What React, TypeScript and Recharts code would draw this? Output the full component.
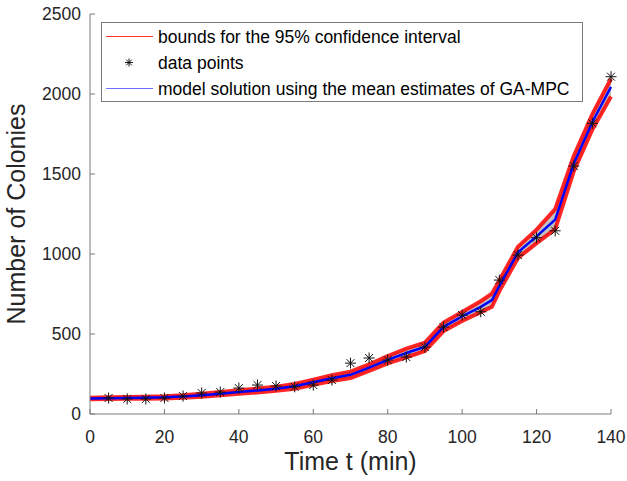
import React from "react";
import { ComposedChart, Area, Line, Scatter, XAxis, YAxis, Legend, Label } from "recharts";

// model curve (mean estimate) and 95% bounds
const modelTime = [0, 5, 10, 15, 20, 25, 30, 35, 40, 45, 50, 55, 60, 65, 70, 75, 80, 85, 90, 95, 100, 105, 108, 110, 115, 120, 125, 130, 135, 140];
const meanEstimate = [97, 99, 100, 102, 104, 109, 117, 127, 137, 147, 158, 173, 199, 224, 245, 290, 338, 381, 420, 545, 610, 670, 712, 800, 1010, 1110, 1215, 1565, 1825, 2045];
const upperBound = [102, 104, 106, 108, 111, 117, 126, 137, 148, 159, 171, 188, 215, 242, 265, 310, 362, 408, 446, 572, 638, 705, 752, 835, 1045, 1152, 1280, 1612, 1875, 2095];
const lowerBound = [92, 94, 95, 96, 97, 101, 108, 117, 126, 135, 145, 158, 183, 206, 225, 270, 316, 354, 394, 518, 582, 637, 670, 768, 975, 1068, 1155, 1518, 1778, 1985];

// observed colonies
const dataTime = [5, 10, 15, 20, 25, 30, 35, 40, 45, 50, 55, 60, 65, 70, 75, 80, 85, 90, 95, 100, 105, 110, 115, 120, 125, 130, 135, 140];
const colonyCounts = [100, 94, 94, 100, 112, 131, 137, 162, 181, 175, 170, 181, 212, 318, 350, 337, 356, 418, 543, 618, 639, 837, 993, 1102, 1145, 1550, 1817, 2108];

const xTicks = [0, 20, 40, 60, 80, 100, 120, 140];
const yTicks = [0, 500, 1000, 1500, 2000, 2500];

const modelData = modelTime.map((t, i) => ({
  t,
  mean: meanEstimate[i],
  hi: upperBound[i],
  lo: lowerBound[i],
  band: [lowerBound[i], upperBound[i]],
}));
const pointData = dataTime.map((t, i) => ({ t, count: colonyCounts[i] }));

const FONT = '"Liberation Sans", Arial, Helvetica, sans-serif';
const AXIS = "#7a7a7a";
const TEXT = "#262626";

function Asterisk(props: any) {
  const { cx, cy } = props;
  const r = 5.5;
  const d = r * 0.72;
  return (
    <g stroke="#111" strokeWidth={1}>
      <line x1={cx - r} y1={cy} x2={cx + r} y2={cy} />
      <line x1={cx} y1={cy - r} x2={cx} y2={cy + r} />
      <line x1={cx - d} y1={cy - d} x2={cx + d} y2={cy + d} />
      <line x1={cx - d} y1={cy + d} x2={cx + d} y2={cy - d} />
    </g>
  );
}

function LeftTick(props: any) {
  const { x, y, payload } = props;
  return (
    <g>
      <line x1={x} y1={y} x2={x + 5} y2={y} stroke={AXIS} />
      <text x={x - 9} y={y + 6} textAnchor="end" fontSize={17.5} fill={TEXT} fontFamily={FONT}>
        {payload.value}
      </text>
    </g>
  );
}

function BottomTick(props: any) {
  const { x, y, payload } = props;
  return (
    <g>
      <line x1={x} y1={y} x2={x} y2={y - 5} stroke={AXIS} />
      <text x={x} y={y + 29} textAnchor="middle" fontSize={17.5} fill={TEXT} fontFamily={FONT}>
        {payload.value}
      </text>
    </g>
  );
}

function YTitle(props: any) {
  const vb = props.viewBox;
  const x = vb.x + 25;
  const y = vb.y + vb.height / 2;
  return (
    <text x={x} y={y} transform={`rotate(-90, ${x}, ${y})`} textAnchor="middle" fontSize={25} fill={TEXT} fontFamily={FONT}>
      Number of Colonies
    </text>
  );
}

function XTitle(props: any) {
  const vb = props.viewBox;
  return (
    <text x={vb.x + vb.width / 2} y={vb.y + 56} textAnchor="middle" fontSize={25} fill={TEXT} fontFamily={FONT}>
      Time t (min)
    </text>
  );
}

function LegendBox() {
  const rows = [14.5, 40.5, 66.5];
  return (
    <svg width={482} height={80} style={{ display: "block" }}>
      <rect x={0.5} y={0.5} width={481} height={79} fill="#fff" stroke={AXIS} />
      <line x1={5} y1={rows[0]} x2={52} y2={rows[0]} stroke="#ff3030" strokeWidth={1} />
      <g stroke="#000" strokeWidth={0.9}>
        <line x1={24} y1={rows[1]} x2={32} y2={rows[1]} />
        <line x1={28} y1={rows[1] - 4} x2={28} y2={rows[1] + 4} />
        <line x1={25.2} y1={rows[1] - 2.8} x2={30.8} y2={rows[1] + 2.8} />
        <line x1={25.2} y1={rows[1] + 2.8} x2={30.8} y2={rows[1] - 2.8} />
      </g>
      <line x1={5} y1={rows[2]} x2={52} y2={rows[2]} stroke="#7070ff" strokeWidth={1} />
      <g fontSize={17.5} fill="#000" fontFamily={FONT}>
        <text x={57} y={rows[0] + 6}>bounds for the 95% confidence interval</text>
        <text x={57} y={rows[1] + 6}>data points</text>
        <text x={57} y={rows[2] + 6}>model solution using the mean estimates of GA-MPC</text>
      </g>
    </svg>
  );
}

export default function App() {
  return (
    <div style={{ position: "absolute", left: 0, top: 0, width: 627, height: 481, background: "#fff" }}>
      <ComposedChart width={627} height={481} data={modelData} margin={{ top: 14, right: 16, left: 0, bottom: 0 }}>
        <XAxis
          dataKey="t"
          type="number"
          domain={[0, 140]}
          ticks={xTicks}
          height={67}
          tickSize={0}
          tickMargin={0}
          tickLine={false}
          axisLine={{ stroke: AXIS }}
          tick={BottomTick}
        >
          <Label content={XTitle} />
        </XAxis>
        <XAxis
          xAxisId="top"
          orientation="top"
          dataKey="t"
          type="number"
          domain={[0, 140]}
          ticks={xTicks}
          height={0}
          mirror
          tick={false}
          tickSize={5}
          tickLine={{ stroke: AXIS }}
          axisLine={{ stroke: AXIS }}
        />
        <YAxis
          type="number"
          domain={[0, 2500]}
          ticks={yTicks}
          width={90}
          tickSize={0}
          tickMargin={0}
          tickLine={false}
          axisLine={{ stroke: AXIS }}
          tick={LeftTick}
        >
          <Label content={YTitle} />
        </YAxis>
        <YAxis
          yAxisId="right"
          orientation="right"
          type="number"
          domain={[0, 2500]}
          ticks={yTicks}
          width={0}
          mirror
          tick={false}
          tickSize={5}
          tickLine={{ stroke: AXIS }}
          axisLine={{ stroke: AXIS }}
        />
        <Legend
          layout="horizontal"
          verticalAlign="middle"
          align="center"
          wrapperStyle={{ left: 101, top: 22, width: 482, height: 80 }}
          content={LegendBox}
        />
        <Area dataKey="band" type="linear" stroke="none" fill="#c0c0c0" fillOpacity={1} isAnimationActive={false} />
        <Line dataKey="hi" type="linear" stroke="#ff0000" strokeWidth={4} strokeOpacity={0.85} dot={false} isAnimationActive={false} />
        <Line dataKey="lo" type="linear" stroke="#ff0000" strokeWidth={4} strokeOpacity={0.85} dot={false} isAnimationActive={false} />
        <Line dataKey="mean" type="linear" stroke="#0000ff" strokeWidth={2.5} dot={false} isAnimationActive={false} />
        <Scatter data={pointData} dataKey="count" shape={Asterisk} isAnimationActive={false} />
      </ComposedChart>
    </div>
  );
}
